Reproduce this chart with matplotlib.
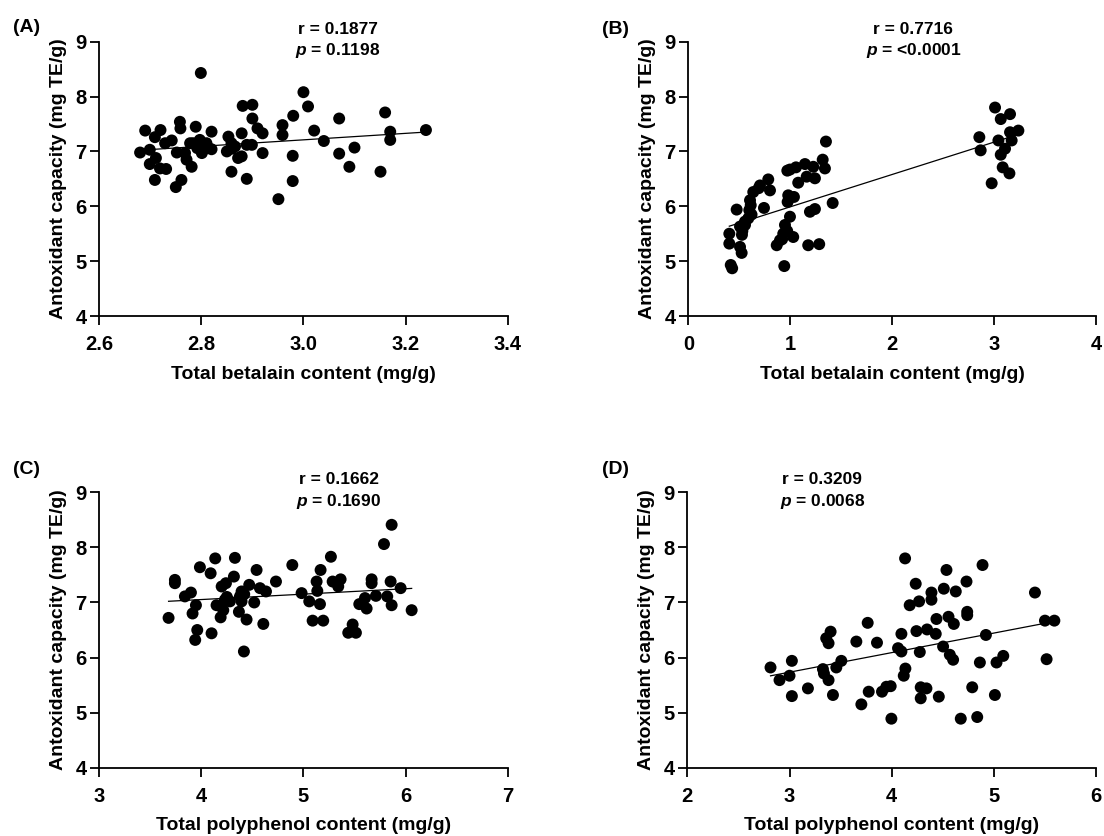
"""Correlation scatter panels: antioxidant capacity vs betalain / polyphenol content."""

import numpy as np
import matplotlib

matplotlib.use("Agg")
import matplotlib.pyplot as plt  # noqa: E402
from matplotlib.ticker import FormatStrFormatter  # noqa: E402

plt.rcParams["font.family"] = ["Liberation Sans", "DejaVu Sans"]
plt.rcParams["font.weight"] = "bold"
plt.rcParams["mathtext.fontset"] = "custom"
plt.rcParams["mathtext.it"] = "Liberation Sans:italic:bold"
plt.rcParams["mathtext.rm"] = "Liberation Sans:bold"

# ---------------------------------------------------------------------------
# Data
# ---------------------------------------------------------------------------

# (A) total betalain content vs antioxidant capacity
betalain_a = [
    2.680, 2.690, 2.699, 2.709, 2.720, 2.699, 2.711, 2.719, 2.731, 2.709,
    2.729, 2.742, 2.752, 2.758, 2.759, 2.761, 2.750, 2.771, 2.781, 2.768,
    2.789, 2.784, 2.797, 2.792, 2.804, 2.810, 2.820, 2.820, 2.801, 2.778,
    2.799, 2.853, 2.859, 2.850, 2.866, 2.879, 2.872, 2.879, 2.889, 2.899,
    2.859, 2.889, 2.920, 2.881, 2.900, 2.900, 2.910, 2.920, 2.959, 2.959,
    2.980, 3.009, 3.000, 2.979, 2.979, 2.951, 3.021, 3.040, 3.070, 3.160,
    3.240, 3.170, 3.170, 3.070, 3.100, 3.090, 3.151, 2.795, 2.812, 2.860,
]
antiox_a = [
    6.98, 7.38, 7.03, 7.26, 7.39, 6.77, 6.88, 6.69, 6.68, 6.48,
    7.15, 7.20, 6.98, 7.54, 7.42, 6.48, 6.35, 6.85, 6.72, 6.97,
    7.45, 7.15, 7.21, 7.06, 7.03, 7.15, 7.36, 7.04, 6.97, 7.15,
    8.43, 7.27, 7.15, 7.00, 7.09, 7.33, 6.88, 6.91, 7.12, 7.12,
    6.63, 6.50, 6.97, 7.83, 7.85, 7.60, 7.42, 7.33, 7.48, 7.30,
    7.65, 7.82, 8.08, 6.92, 6.46, 6.13, 7.38, 7.19, 7.60, 7.71,
    7.39, 7.36, 7.21, 6.96, 7.07, 6.72, 6.63, 7.10, 7.08, 7.05,
]

# (B) total betalain content (wider sample set) vs antioxidant capacity
betalain_b = [
    3.009, 3.156, 3.065, 2.855, 2.868, 3.042, 3.156, 3.238, 3.172, 3.107,
    3.065, 3.084, 3.150, 2.976,
    1.350, 1.318, 1.340, 1.144, 1.226, 0.997, 1.056, 1.242, 1.161, 1.078,
    0.784, 0.703, 0.637, 0.801, 0.980, 1.036, 0.974, 0.605, 0.598, 0.474,
    0.742, 1.416, 1.193, 1.242, 0.588, 0.556, 0.507, 0.997, 0.948, 0.402,
    0.526, 0.402, 0.507, 0.523, 0.931, 1.029, 0.899, 0.867, 1.176, 1.284,
    0.416, 0.941, 0.430, 0.530, 0.612, 0.690, 0.555, 0.620, 0.970, 0.920,
    0.971,
]
antiox_b = [
    7.80, 7.68, 7.59, 7.26, 7.02, 7.20, 7.35, 7.38, 7.20, 7.05,
    6.94, 6.71, 6.60, 6.42,
    7.18, 6.85, 6.69, 6.77, 6.72, 6.67, 6.71, 6.51, 6.54, 6.43,
    6.49, 6.38, 6.26, 6.29, 6.20, 6.17, 6.08, 6.11, 5.93, 5.94,
    5.97, 6.06, 5.90, 5.95, 5.78, 5.66, 5.63, 5.81, 5.66, 5.50,
    5.48, 5.32, 5.26, 5.15, 5.50, 5.44, 5.38, 5.29, 5.29, 5.31,
    4.93, 4.91, 4.87, 5.55, 6.02, 6.33, 5.72, 5.85, 5.55, 5.40,
    6.65,
]

# (C) total polyphenol content vs antioxidant capacity
polyphenol_c = [
    5.864, 5.789, 5.269, 4.891, 4.541, 5.168, 4.329, 4.136, 3.986, 4.091,
    4.319, 3.741, 3.741, 4.241, 4.199, 4.731, 4.469, 4.574, 4.633, 5.129,
    5.136, 5.286, 5.364, 5.341, 5.668, 5.668, 5.854, 5.952, 4.982, 3.898,
    3.839, 4.394, 4.378, 4.394, 5.057, 5.162, 4.518, 4.231, 4.280, 4.149,
    4.215, 3.947, 3.914, 4.368, 4.443, 4.189, 3.679, 4.607, 5.090, 5.194,
    3.960, 3.940, 4.100, 4.417, 5.482, 5.439, 5.514, 5.547, 5.619, 5.603,
    5.710, 5.821, 5.864, 6.060, 4.250, 4.420,
]
antiox_c = [
    8.41, 8.06, 7.83, 7.68, 7.59, 7.59, 7.81, 7.80, 7.64, 7.53,
    7.47, 7.41, 7.35, 7.35, 7.29, 7.38, 7.32, 7.26, 7.20, 7.38,
    7.21, 7.38, 7.42, 7.29, 7.42, 7.35, 7.38, 7.26, 7.17, 7.18,
    7.11, 7.20, 7.11, 7.02, 7.02, 6.97, 7.00, 7.05, 7.02, 6.95,
    6.86, 6.95, 6.80, 6.83, 6.69, 6.73, 6.72, 6.61, 6.67, 6.67,
    6.50, 6.32, 6.44, 6.11, 6.60, 6.45, 6.45, 6.97, 6.89, 7.08,
    7.12, 7.11, 6.95, 6.86, 7.10, 7.15,
]

# (D) total polyphenol content (wider sample set) vs antioxidant capacity
polyphenol_d = [
    2.814, 2.902, 3.000, 3.023, 3.023, 3.180, 3.327, 3.337, 3.382, 3.359,
    3.402, 3.382, 3.425, 3.458, 3.507, 3.654, 3.765, 3.856, 3.703, 3.775,
    3.905, 3.948, 3.990, 3.997, 4.095, 4.062, 4.095, 4.134, 4.118, 4.131,
    4.235, 4.176, 4.268, 4.242, 4.275, 4.284, 4.340, 4.284, 4.346, 4.389,
    4.389, 4.431, 4.438, 4.461, 4.510, 4.536, 4.556, 4.608, 4.627, 4.503,
    4.569, 4.601, 4.676, 4.732, 4.739, 4.739, 4.788, 4.837, 4.863, 4.889,
    4.922, 5.010, 5.026, 5.092, 5.402, 5.500, 5.592, 5.516,
]
antiox_d = [
    5.82, 5.59, 5.67, 5.94, 5.30, 5.44, 5.79, 5.71, 5.59, 6.35,
    6.47, 6.26, 5.32, 5.82, 5.94, 6.29, 6.63, 6.27, 5.15, 5.38,
    5.38, 5.47, 5.48, 4.89, 6.43, 6.17, 6.11, 5.80, 5.67, 7.80,
    7.34, 6.95, 7.02, 6.48, 6.10, 5.46, 5.44, 5.26, 6.51, 7.18,
    7.05, 6.43, 6.70, 5.29, 7.25, 7.59, 6.74, 6.61, 7.20, 6.20,
    6.05, 5.96, 4.89, 7.38, 6.83, 6.77, 5.46, 4.92, 5.91, 7.68,
    6.41, 5.32, 5.91, 6.03, 7.18, 6.67, 6.67, 5.97,
]

betalain_label = "Total betalain content (mg/g)"
polyphenol_label = "Total polyphenol content (mg/g)"
antiox_label = "Antoxidant capacity (mg TE/g)"

stats_a = ("r = 0.1877", "$p$ = 0.1198")
stats_b = ("r = 0.7716", "$p$ = <0.0001")
stats_c = ("r = 0.1662", "$p$ = 0.1690")
stats_d = ("r = 0.3209", "$p$ = 0.0068")

# ---------------------------------------------------------------------------
# Drawing helpers
# ---------------------------------------------------------------------------

TICK_SIZE = 14.5
LABEL_SIZE = 14
STAT_SIZE = 12.5


def draw_panel(ax, x, y, xlim, xticks, xfmt, xlabel, stats, stat_x):
    x = np.asarray(x, dtype=float)
    y = np.asarray(y, dtype=float)

    ax.scatter(x, y, s=74, color="black", edgecolors="none", zorder=3)

    # least-squares regression line spanning the data range
    slope, intercept = np.polyfit(x, y, 1)
    xs = np.array([x.min(), x.max()])
    ax.plot(xs, slope * xs + intercept, color="black", lw=0.9, zorder=4)

    ax.set_xlim(*xlim)
    ax.set_ylim(4, 9)
    ax.set_xticks(xticks)
    ax.set_yticks(range(4, 10))
    ax.xaxis.set_major_formatter(FormatStrFormatter(xfmt))

    for side in ("top", "right"):
        ax.spines[side].set_visible(False)
    for side in ("left", "bottom"):
        ax.spines[side].set_linewidth(1.3)

    ax.tick_params(axis="both", direction="out", length=6.5, width=1.3,
                   labelsize=TICK_SIZE)
    ax.tick_params(axis="x", pad=7.5)
    ax.tick_params(axis="y", pad=2.5)
    for lab in ax.get_xticklabels() + ax.get_yticklabels():
        lab.set_fontweight("bold")

    ax.set_xlabel(xlabel, fontsize=LABEL_SIZE, fontweight="bold", labelpad=8)
    ax.set_ylabel(antiox_label, fontsize=LABEL_SIZE, fontweight="bold",
                  labelpad=6)

    ax.text(stat_x, 1.045, stats[0], transform=ax.transAxes, ha="center",
            va="center", fontsize=STAT_SIZE, fontweight="bold")
    ax.text(stat_x, 0.967, stats[1], transform=ax.transAxes, ha="center",
            va="center", fontsize=STAT_SIZE, fontweight="bold")


fig = plt.figure(figsize=(11.04, 8.36), dpi=100)

ax_a = fig.add_axes([0.0899, 0.6220, 0.3699, 0.3281])
ax_b = fig.add_axes([0.6235, 0.6220, 0.3693, 0.3281])
ax_c = fig.add_axes([0.0899, 0.0817, 0.3699, 0.3294])
ax_d = fig.add_axes([0.6226, 0.0817, 0.3702, 0.3294])

draw_panel(ax_a, betalain_a, antiox_a, (2.6, 3.4), [2.6, 2.8, 3.0, 3.2, 3.4],
           "%.1f", betalain_label, stats_a, 0.584)
draw_panel(ax_b, betalain_b, antiox_b, (0, 4), [0, 1, 2, 3, 4],
           "%d", betalain_label, stats_b, 0.552)
draw_panel(ax_c, polyphenol_c, antiox_c, (3, 7), [3, 4, 5, 6, 7],
           "%d", polyphenol_label, stats_c, 0.586)
draw_panel(ax_d, polyphenol_d, antiox_d, (2, 6), [2, 3, 4, 5, 6],
           "%d", polyphenol_label, stats_d, 0.330)

# panel letters
for letter, px, py in (("(A)", 13, 28), ("(B)", 602, 29),
                       ("(C)", 13, 470), ("(D)", 602, 470)):
    fig.text(px / 1104, 1 - py / 836, letter, ha="left", va="center",
             fontsize=LABEL_SIZE, fontweight="bold")

fig.savefig("out.png", dpi=100, facecolor="white")
plt.close(fig)
